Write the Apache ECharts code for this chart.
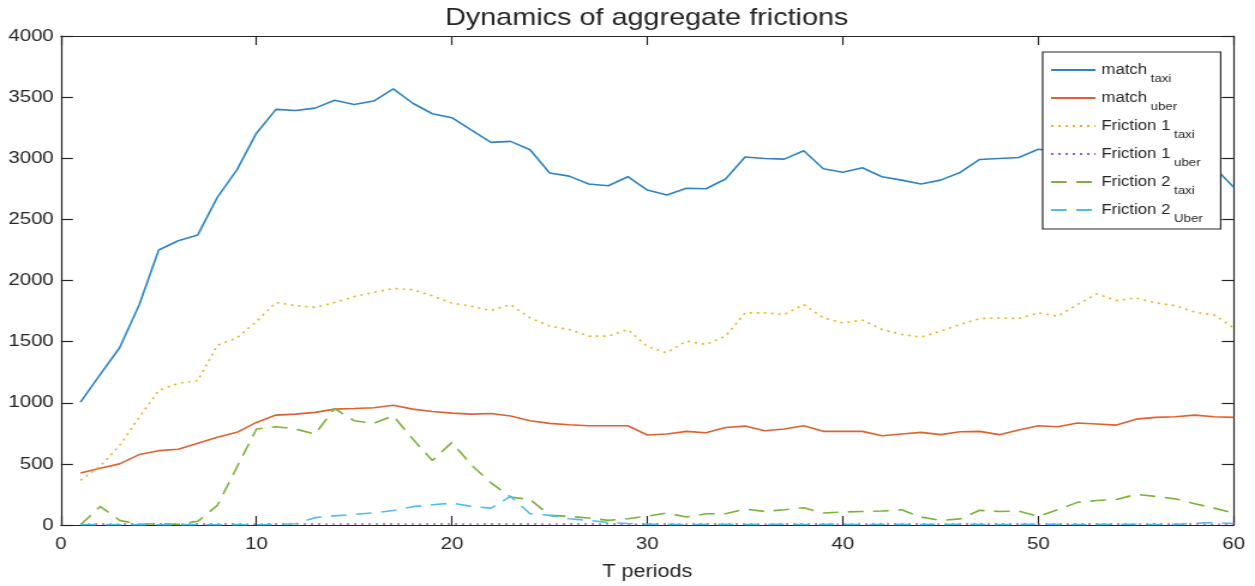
<!DOCTYPE html>
<html>
<head>
<meta charset="utf-8">
<title>Dynamics of aggregate frictions</title>
<script src="https://cdn.jsdelivr.net/npm/echarts@6/dist/echarts.min.js"></script>
<style>
  html, body { margin: 0; padding: 0; background: #fff; overflow: hidden; }
  /* the figure is laid out at a narrower width and stretched horizontally */
  #chart { width: 1046px; height: 586px; transform: scaleX(1.19981); transform-origin: 0 0; }
</style>
</head>
<body>
<div id="chart"></div>
<script>
const titleText = 'Dynamics of aggregate frictions';
const xAxisName = 'T periods';

const periods = [
  1, 2, 3, 4, 5, 6, 7, 8, 9, 10,
  11, 12, 13, 14, 15, 16, 17, 18, 19, 20,
  21, 22, 23, 24, 25, 26, 27, 28, 29, 30,
  31, 32, 33, 34, 35, 36, 37, 38, 39, 40,
  41, 42, 43, 44, 45, 46, 47, 48, 49, 50,
  51, 52, 53, 54, 55, 56, 57, 58, 59, 60
];

const matchTaxi = [
  1005, 1230, 1450, 1800, 2250, 2325, 2373, 2680, 2905, 3205,
  3400, 3390, 3410, 3475, 3440, 3468, 3568, 3450, 3364, 3332,
  3230, 3130, 3138, 3070, 2880, 2854, 2789, 2775, 2849, 2740,
  2699, 2754, 2751, 2830, 3010, 2998, 2993, 3061, 2914, 2886,
  2922, 2849, 2821, 2789, 2821, 2884, 2990, 2998, 3006, 3074,
  3050, 3080, 3030, 3010, 3040, 2990, 2980, 2960, 2925, 2762
];

const matchUber = [
  426, 464, 500, 576, 608, 619, 668, 717, 758, 839,
  899, 907, 921, 948, 953, 959, 980, 948, 929, 915,
  907, 912, 891, 853, 831, 820, 812, 812, 812, 736,
  744, 766, 755, 798, 809, 771, 785, 812, 766, 766,
  766, 730, 744, 758, 739, 763, 766, 739, 777, 812,
  804, 834, 826, 817, 866, 880, 885, 899, 885, 880
];

const friction1Taxi = [
  365, 480, 650, 880, 1100, 1160, 1180, 1470, 1530, 1665,
  1820, 1795, 1780, 1820, 1868, 1903, 1935, 1925, 1875, 1815,
  1790, 1754, 1803, 1694, 1627, 1599, 1545, 1545, 1599, 1460,
  1409, 1505, 1477, 1545, 1735, 1735, 1722, 1803, 1694, 1654,
  1676, 1599, 1559, 1537, 1586, 1640, 1689, 1694, 1689, 1735,
  1708, 1803, 1890, 1836, 1857, 1817, 1795, 1741, 1717, 1613
];

const friction1Uber = [
  6, 8, 7, 9, 8, 7, 8, 9, 8, 7,
  8, 9, 8, 7, 8, 9, 8, 7, 8, 8,
  7, 8, 9, 8, 7, 8, 8, 9, 7, 8,
  8, 7, 9, 8, 8, 7, 8, 9, 8, 7,
  8, 8, 9, 8, 7, 8, 8, 9, 8, 7,
  8, 9, 8, 8, 7, 8, 9, 8, 7, 8
];

const friction2Taxi = [
  0, 152, 38, 5, 11, 5, 30, 160, 472, 785,
  804, 785, 744, 953, 853, 831, 893, 703, 527, 676,
  490, 345, 228, 209, 79, 71, 57, 38, 51, 73,
  98, 65, 92, 92, 130, 111, 125, 141, 98, 106,
  111, 114, 125, 65, 38, 50, 120, 111, 114, 71,
  125, 185, 200, 209, 250, 234, 214, 174, 138, 98
];

const friction2Uber = [
  2, 3, 2, 3, 2, 3, 2, 2, 3, 2,
  4, 10, 60, 75, 87, 100, 118, 150, 165, 179,
  152, 138, 234, 92, 79, 51, 38, 20, 12, 6,
  5, 4, 6, 5, 4, 5, 6, 4, 5, 5,
  4, 6, 5, 4, 5, 6, 5, 4, 5, 6,
  5, 4, 5, 6, 5, 4, 5, 14, 20, 12
];

// legend labels: main text and subscript
const legendMain = ['match', 'match', 'Friction 1', 'Friction 1', 'Friction 2', 'Friction 2'];
const legendSub = ['taxi', 'uber', 'taxi', 'uber', 'taxi', 'Uber'];

const yTicks = [0, 500, 1000, 1500, 2000, 2500, 3000, 3500, 4000];
const xTicks = [0, 10, 20, 30, 40, 50, 60];

const FONT = '"Liberation Sans", Arial, Helvetica, sans-serif';
const INK = '#262626';

const seriesDefs = [
  { values: matchTaxi,     color: '#2a84c6', type: 'solid',  width: 1.6 },
  { values: matchUber,     color: '#e0612f', type: 'solid',  width: 1.6 },
  { values: friction1Taxi, color: '#EDB120', type: [2, 4],   width: 1.6 },
  { values: friction1Uber, color: '#9a5cb0', type: [2, 4],   width: 1.4 },
  { values: friction2Taxi, color: '#7cb23a', type: [13, 8],  width: 1.6 },
  { values: friction2Uber, color: '#4DBEEE', type: [13, 8],  width: 1.6 }
];

const seriesNames = legendMain.map((m, i) => m + '_' + legendSub[i]);

const series = seriesDefs.map((d, i) => ({
  name: seriesNames[i],
  type: 'line',
  xAxisIndex: 0,
  yAxisIndex: 0,
  data: periods.map((t, k) => [t, d.values[k]]),
  symbol: 'none',
  showSymbol: false,
  smooth: false,
  lineStyle: { color: d.color, width: d.width, type: d.type },
  itemStyle: { color: d.color },
  emphasis: { disabled: true }
}));

const axisLine = { show: true, onZero: false, lineStyle: { color: INK, width: 1.2 } };
const plainNumber = (v) => String(v);

const chart = echarts.init(document.getElementById('chart'), null, { renderer: 'canvas' });

chart.setOption({
  animation: false,
  backgroundColor: '#ffffff',
  title: {
    text: titleText,
    left: 534,
    textAlign: 'center',
    top: 1,
    textStyle: { fontFamily: FONT, fontSize: 24, fontWeight: 'normal', color: INK }
  },
  grid: { left: 50.8, right: 17.7, top: 36, bottom: 59, containLabel: false },
  legend: {
    orient: 'vertical',
    left: 869,
    top: 52,
    z: 20,
    padding: [11, 15, 5, 6],
    itemGap: 7,
    itemWidth: 37,
    itemHeight: 14,
    backgroundColor: '#ffffff',
    borderColor: INK,
    borderWidth: 1.2,
    borderRadius: 0,
    itemStyle: { opacity: 0 },
    data: seriesNames,
    formatter: function (name) {
      const i = seriesNames.indexOf(name);
      return '{m|' + legendMain[i] + '}{s|' + legendSub[i] + '}';
    },
    textStyle: {
      fontFamily: FONT,
      color: INK,
      rich: {
        m: { fontFamily: FONT, fontSize: 14, lineHeight: 28, color: INK },
        s: { fontFamily: FONT, fontSize: 11, lineHeight: 11, verticalAlign: 'bottom', padding: [0, 0, 0, 3], color: INK }
      }
    }
  },
  xAxis: [
    {
      type: 'value', position: 'bottom',
      min: xTicks[0], max: xTicks[xTicks.length - 1], interval: 10,
      axisLine: axisLine,
      axisTick: { show: true, inside: true, length: 9, lineStyle: { color: INK, width: 1.2 } },
      axisLabel: { fontFamily: FONT, fontSize: 17, color: INK, margin: 11, formatter: plainNumber },
      splitLine: { show: false },
      name: xAxisName, nameLocation: 'middle', nameGap: 38,
      nameTextStyle: { fontFamily: FONT, fontSize: 18, color: INK }
    },
    {
      type: 'value', position: 'top',
      min: xTicks[0], max: xTicks[xTicks.length - 1], interval: 10,
      axisLine: axisLine,
      axisTick: { show: true, inside: true, length: 9, lineStyle: { color: INK, width: 1.2 } },
      axisLabel: { show: false },
      splitLine: { show: false }
    }
  ],
  yAxis: [
    {
      type: 'value', position: 'left',
      min: yTicks[0], max: yTicks[yTicks.length - 1], interval: 500,
      axisLine: axisLine,
      axisTick: { show: true, inside: true, length: 10, lineStyle: { color: INK, width: 1.2 } },
      axisLabel: { fontFamily: FONT, fontSize: 17, color: INK, margin: 6, formatter: plainNumber },
      splitLine: { show: false }
    },
    {
      type: 'value', position: 'right',
      min: yTicks[0], max: yTicks[yTicks.length - 1], interval: 500,
      axisLine: axisLine,
      axisTick: { show: true, inside: true, length: 10, lineStyle: { color: INK, width: 1.2 } },
      axisLabel: { show: false },
      splitLine: { show: false }
    }
  ],
  tooltip: { show: false },
  series: series
});
</script>
</body>
</html>
